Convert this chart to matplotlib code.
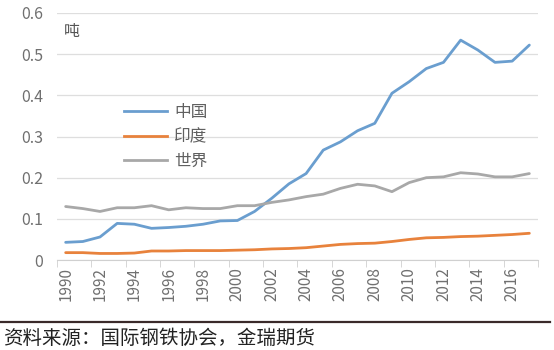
import numpy as np
import matplotlib
matplotlib.use("Agg")
import matplotlib.pyplot as plt
from matplotlib.lines import Line2D

plt.rcParams['font.family'] = ['Noto Sans CJK SC', 'DejaVu Sans']

years = list(range(1990, 2018))
china = [0.043, 0.045, 0.056, 0.089, 0.087, 0.077, 0.079, 0.082, 0.087, 0.095,
         0.096, 0.118, 0.150, 0.185, 0.210, 0.267, 0.287, 0.314, 0.332, 0.405,
         0.433, 0.465, 0.480, 0.534, 0.510, 0.480, 0.483, 0.522]
india = [0.018, 0.018, 0.016, 0.016, 0.017, 0.022, 0.022, 0.023, 0.023, 0.023,
         0.024, 0.025, 0.027, 0.028, 0.030, 0.034, 0.038, 0.040, 0.041, 0.045,
         0.050, 0.054, 0.055, 0.057, 0.058, 0.060, 0.062, 0.065]
world = [0.130, 0.125, 0.118, 0.127, 0.127, 0.132, 0.122, 0.127, 0.125, 0.125,
         0.132, 0.132, 0.140, 0.146, 0.154, 0.160, 0.174, 0.184, 0.180, 0.166,
         0.188, 0.200, 0.202, 0.212, 0.209, 0.202, 0.202, 0.210]
names = ['中国', '印度', '世界']
colors = ['#6a9ecf', '#e8823c', '#a8a8a8']

fig = plt.figure(figsize=(5.54, 3.5), dpi=100)
ax = fig.add_axes([0.103, 0.257, 0.868, 0.706])

x = np.arange(len(years))
for s, c in zip([china, india, world], colors):
    ax.plot(x, s, color=c, lw=2.0, solid_capstyle='round')

ax.set_xlim(-0.5, len(years) - 0.5)
ax.set_ylim(0, 0.6)
ax.set_yticks([0, 0.1, 0.2, 0.3, 0.4, 0.5, 0.6])
ax.set_yticklabels(['0', '0.1', '0.2', '0.3', '0.4', '0.5', '0.6'])
ax.set_xticks(x[::2])
ax.set_xticklabels([str(y) for y in years[::2]], rotation=90)
ax.set_xticks(np.arange(-0.5, len(years), 2), minor=True)
ax.tick_params(axis='x', which='major', length=0, pad=5, labelsize=11, colors='#707070')
ax.tick_params(axis='x', which='minor', length=5, color='#d0d0d0')
ax.tick_params(axis='y', length=0, pad=10, labelsize=11.5, colors='#707070')
ax.grid(axis='y', color='#dedede', lw=0.9)
ax.set_axisbelow(True)
for sp in ['top', 'right', 'left']:
    ax.spines[sp].set_visible(False)
ax.spines['bottom'].set_color('#d0d0d0')

ax.text(0.014, 0.925, '吨', transform=ax.transAxes, fontsize=11.5, color='#555555', va='center')

handles = [Line2D([], [], color=c, lw=2.0) for c in colors]
ax.legend(handles, names, loc='center left', bbox_to_anchor=(0.108, 0.498), frameon=False,
          fontsize=12, labelcolor='#606060', handlelength=2.6, handletextpad=0.4,
          labelspacing=0.45)

fig.add_artist(Line2D([0.0, 0.993], [1 - 322 / 350, 1 - 322 / 350], color='#3a2a2a', lw=1.6))
fig.text(0.005, 1 - 338 / 350, '资料来源：国际钢铁协会，金瑞期货', fontsize=14, color='#222222', va='center')

fig.savefig('out.png', dpi=100, facecolor='white')
